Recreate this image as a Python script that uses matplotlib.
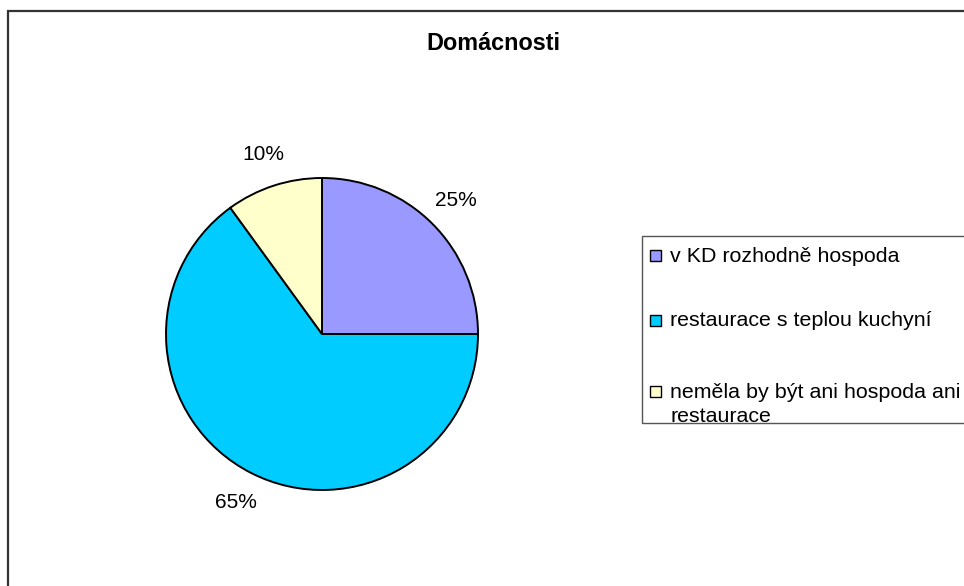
import matplotlib.pyplot as plt
from matplotlib.patches import Rectangle

plt.rcParams['font.family'] = ['Liberation Sans', 'DejaVu Sans']

title = 'Domácnosti'
labels = ['v KD rozhodně hospoda', 'restaurace s teplou kuchyní',
          'neměla by být ani hospoda ani\nrestaurace']
values = [25, 65, 10]
colors = ['#9999FF', '#00CCFF', '#FFFFCC']

W, H = 964, 586
fig = plt.figure(figsize=(W / 100, H / 100), dpi=100)
fig.patch.set_facecolor('white')


def px(x, y):
    # pixel coords (from top-left) -> figure fraction
    return x / W, 1 - y / H


# outer chart frame, runs off the right and bottom edge
x0, y0 = px(8, 11)
fig.patches.append(Rectangle((x0, -0.1), 1.2, y0 + 0.1, transform=fig.transFigure,
                             fill=False, edgecolor='#333333', linewidth=1.6, clip_on=False))

fig.text(*px(493, 44), title, ha='center', va='center', fontsize=16.8, fontweight='bold')

# pie
cx, cy, r = 322, 334, 156
ax = fig.add_axes([(cx - r) / W, (H - cy - r) / H, 2 * r / W, 2 * r / H])
wedges, texts = ax.pie(values, colors=colors, startangle=90, counterclock=False,
                       labels=[f'{v}%' for v in values], labeldistance=1.21,
                       wedgeprops=dict(edgecolor='black', linewidth=1.4),
                       textprops=dict(fontsize=15))
for t in texts:
    t.set_ha('center')
    t.set_va('center')
ax.set_xlim(-1, 1)
ax.set_ylim(-1, 1)
ax.set_aspect('auto')
ax.axis('off')

# legend box, also runs off the right edge
lx, ly = px(642, 236)
_, lb = px(0, 423)
fig.patches.append(Rectangle((lx, lb), 0.5, ly - lb, transform=fig.transFigure,
                             facecolor='white', edgecolor='#555555', linewidth=1.0,
                             clip_on=False))
rows_y = [256, 321, 392]
for lab, col, ry in zip(labels, colors, rows_y):
    mx, my = px(650, ry + 5)
    fig.patches.append(Rectangle((mx, my), 11 / W, 11 / H, transform=fig.transFigure,
                                 facecolor=col, edgecolor='black', linewidth=1.0))
    lines = lab.split('\n')
    for i, line in enumerate(lines):
        fig.text(*px(670, ry + i * 24), line, ha='left', va='center', fontsize=15.4)

fig.savefig('out.png', dpi=100)
